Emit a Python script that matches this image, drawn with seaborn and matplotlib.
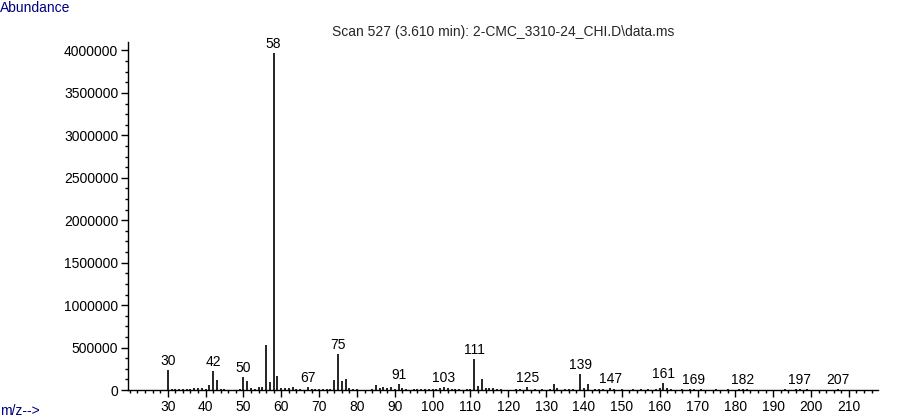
import numpy as np
import pandas as pd
import matplotlib
matplotlib.use("Agg")
import matplotlib.pyplot as plt
import seaborn as sns
from matplotlib.ticker import MultipleLocator, AutoMinorLocator

# Mass spectrum, scan 527
mz = [30, 31, 32, 33, 34, 35, 36, 37, 38, 39, 40, 41, 42, 43, 44, 45,
      49, 50, 51, 52, 53, 54, 55, 56, 57, 58, 59, 60, 61, 62, 63, 64, 65,
      67, 68, 69, 70, 71, 72, 73, 74, 75, 76, 77, 78, 79, 80,
      84, 85, 86, 87, 88, 89, 90, 91, 92, 93, 95, 96, 97, 98, 99, 100,
      101, 102, 103, 104, 105, 106, 107, 109, 110, 111, 112, 113, 114, 115,
      116, 117, 118, 122, 123, 125, 127, 129, 131, 132, 133, 135, 136, 137,
      139, 140, 141, 143, 144, 145, 147, 148, 150, 153, 155, 157, 159, 160,
      161, 162, 163, 166, 168, 169, 171, 175, 178, 181, 182, 183, 193,
      196, 197, 199, 207]
abundance = [236000, 12000, 14000, 10000, 12000, 14000, 14000, 22000, 24000,
             26000, 12000, 62000, 224000, 118000, 14000, 8000,
             12000, 153000, 106000, 20000, 14000, 33000, 33000, 530000,
             94000, 3970000, 165000, 20000, 24000, 24000, 35000, 10000, 14000,
             30000, 10000, 16000, 12000, 12000, 16000, 12000, 118000, 424000,
             106000, 130000, 24000, 8000, 10000,
             12000, 59000, 24000, 35000, 20000, 30000, 14000, 71000, 20000,
             8000, 10000, 12000, 12000, 10000, 14000, 12000,
             14000, 24000, 35000, 22000, 14000, 12000, 10000, 10000, 12000,
             366000, 47000, 130000, 24000, 20000,
             20000, 16000, 10000, 14000, 16000, 35000, 14000, 12000, 10000,
             71000, 20000, 12000, 14000, 12000,
             189000, 24000, 71000, 14000, 16000, 14000, 24000, 14000, 12000,
             10000, 12000, 10000, 12000, 20000,
             83000, 20000, 12000, 10000, 12000, 16000, 10000, 10000, 10000,
             10000, 16000, 10000, 10000,
             10000, 12000, 10000, 10000]
labelled = [30, 42, 50, 58, 67, 75, 91, 103, 111, 125, 139, 147, 161, 169,
            182, 197, 207]

title = "Scan 527 (3.610 min): 2-CMC_3310-24_CHI.D\\data.ms"

df = pd.DataFrame({"mz": mz, "abundance": abundance})

sns.set_theme(style="white")
plt.rcParams["font.family"] = ["Liberation Sans Narrow", "Liberation Sans", "DejaVu Sans"]
plt.rcParams["font.size"] = 10

fig = plt.figure(figsize=(9, 4.2), dpi=100)
ax = fig.add_axes([128 / 900, 30 / 420, 750 / 900, 348 / 420])

ax.vlines(df["mz"], 0, df["abundance"], color="black", linewidth=1.2)

for m in labelled:
    a = df.loc[df["mz"] == m, "abundance"].iloc[0]
    ax.annotate(str(m), (m, a), xytext=(0, 1.5), textcoords="offset points",
                ha="center", va="bottom", fontsize=10, color="black")

ax.set_xlim(19.5, 217.7)
ax.set_ylim(0, 4.1e6)
ax.xaxis.set_major_locator(MultipleLocator(10))
ax.xaxis.set_minor_locator(AutoMinorLocator(5))
ax.yaxis.set_major_locator(MultipleLocator(500000))
ax.yaxis.set_minor_locator(AutoMinorLocator(4))
ax.set_xticks(np.arange(30, 220, 10))
ax.set_xticklabels([str(v) for v in range(30, 220, 10)])
ax.yaxis.set_major_formatter(matplotlib.ticker.FuncFormatter(lambda v, p: f"{int(v)}"))

ax.tick_params(axis="both", which="major", direction="out", length=5, width=1,
               color="black", labelsize=10, labelcolor="black", pad=2)
ax.tick_params(axis="both", which="minor", direction="out", length=2.5, width=1,
               color="black")
ax.tick_params(axis="x", bottom=True, which="both")
ax.tick_params(axis="y", left=True, which="both")

sns.despine(ax=ax)
for side in ["left", "bottom"]:
    ax.spines[side].set_color("black")
    ax.spines[side].set_linewidth(1)
ax.grid(False)

fig.text(503 / 900, 1 - 32 / 420, title, ha="center", va="center", fontsize=10)
fig.text(0.0, 1 - 8 / 420, "Abundance", ha="left", va="center", fontsize=10,
         color="#000080")
fig.text(0.0, 1 - 411 / 420, "m/z-->", ha="left", va="center", fontsize=10,
         color="#000080")

fig.savefig("out.png", dpi=100, facecolor="white")
